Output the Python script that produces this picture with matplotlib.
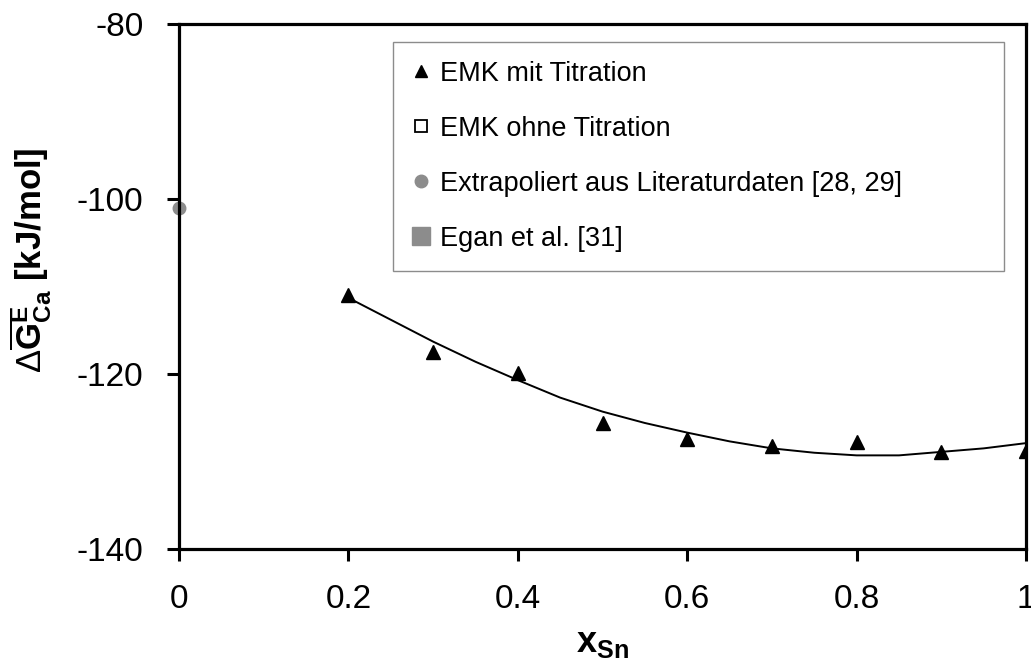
import matplotlib
matplotlib.use("Agg")
import matplotlib.pyplot as plt
from matplotlib.lines import Line2D

plt.rcParams['font.family'] = ['Liberation Sans', 'DejaVu Sans']
plt.rcParams['mathtext.fontset'] = 'custom'
plt.rcParams['mathtext.rm'] = 'Liberation Sans'
plt.rcParams['mathtext.bf'] = 'Liberation Sans:bold'
plt.rcParams['mathtext.it'] = 'Liberation Sans:italic'
plt.rcParams['axes.unicode_minus'] = False

# EMK mit Titration
x_titr = [0.2, 0.3, 0.4, 0.5, 0.6, 0.7, 0.8, 0.9, 1.0]
g_titr = [-111.0, -117.5, -119.9, -125.6, -127.4, -128.2, -127.8, -128.9, -128.8]

# Ausgleichskurve
x_fit = [0.2, 0.25, 0.3, 0.35, 0.4, 0.45, 0.5, 0.55, 0.6, 0.65, 0.7,
         0.75, 0.8, 0.85, 0.9, 0.95, 1.0]
g_fit = [-111.3, -113.8, -116.3, -118.6, -120.7, -122.7, -124.3, -125.6,
         -126.7, -127.7, -128.5, -129.0, -129.3, -129.3, -128.9, -128.5, -127.9]

# Extrapoliert aus Literaturdaten
x_lit = [0.0]
g_lit = [-101.0]

x_ticks = [0, 0.2, 0.4, 0.6, 0.8, 1]
x_ticklabels = ['0', '0.2', '0.4', '0.6', '0.8', '1']
y_ticks = [-140, -120, -100, -80]

fig = plt.figure(figsize=(10.31, 6.64), dpi=100)
ax = fig.add_axes([0.1736, 0.1732, 0.8216, 0.7907])

ax.plot(x_fit, g_fit, color='black', lw=1.4, zorder=2)
ax.plot(x_titr, g_titr, ls='none', marker='^', ms=10, color='black', zorder=3)
ax.plot(x_lit, g_lit, ls='none', marker='o', ms=9, color='#8c8c8c',
        clip_on=False, zorder=1)

ax.set_xlim(0, 1)
ax.set_ylim(-140, -80)
ax.set_xticks(x_ticks)
ax.set_xticklabels(x_ticklabels)
ax.set_yticks(y_ticks)

for sp in ax.spines.values():
    sp.set_linewidth(2.3)
    sp.set_zorder(4)
ax.tick_params(direction='out', length=8.5, width=2.2, labelsize=24)
ax.tick_params(axis='y', pad=17)
ax.tick_params(axis='x', pad=17)

ax.set_xlabel(r'$\mathbf{x}_{\mathbf{Sn}}$', fontsize=26)
ax.xaxis.set_label_coords(0.5, -0.145)
ax.set_ylabel(r'$\Delta\overline{\mathbf{G}}^{\mathbf{E}}_{\mathbf{Ca}}$ [kJ/mol]',
              fontsize=25, fontweight='bold')
ax.yaxis.set_label_coords(-0.148, 0.55)

handles = [
    Line2D([], [], ls='none', marker='^', ms=9, color='black'),
    Line2D([], [], ls='none', marker='s', ms=8, mfc='white', mec='black', mew=1.3),
    Line2D([], [], ls='none', marker='o', ms=9, color='#8c8c8c'),
    Line2D([], [], ls='none', marker='s', ms=13, color='#8c8c8c'),
]
labels = ['EMK mit Titration', 'EMK ohne Titration',
          'Extrapoliert aus Literaturdaten [28, 29]', 'Egan et al. [31]']
leg_box = (393 / 1031, (664 - 268) / 664, (1004 - 393) / 1031, (268 - 42) / 664)
leg = fig.legend(handles, labels, loc='upper left', mode='expand',
                 bbox_to_anchor=leg_box, borderaxespad=0,
                 fontsize=19.5, frameon=True, fancybox=False, labelspacing=1.07,
                 handlelength=0.7, handletextpad=0.35, borderpad=0.7)
leg.get_frame().set_edgecolor('#707070')
leg.get_frame().set_linewidth(1.0)

fig.savefig('out.png', dpi=100)
